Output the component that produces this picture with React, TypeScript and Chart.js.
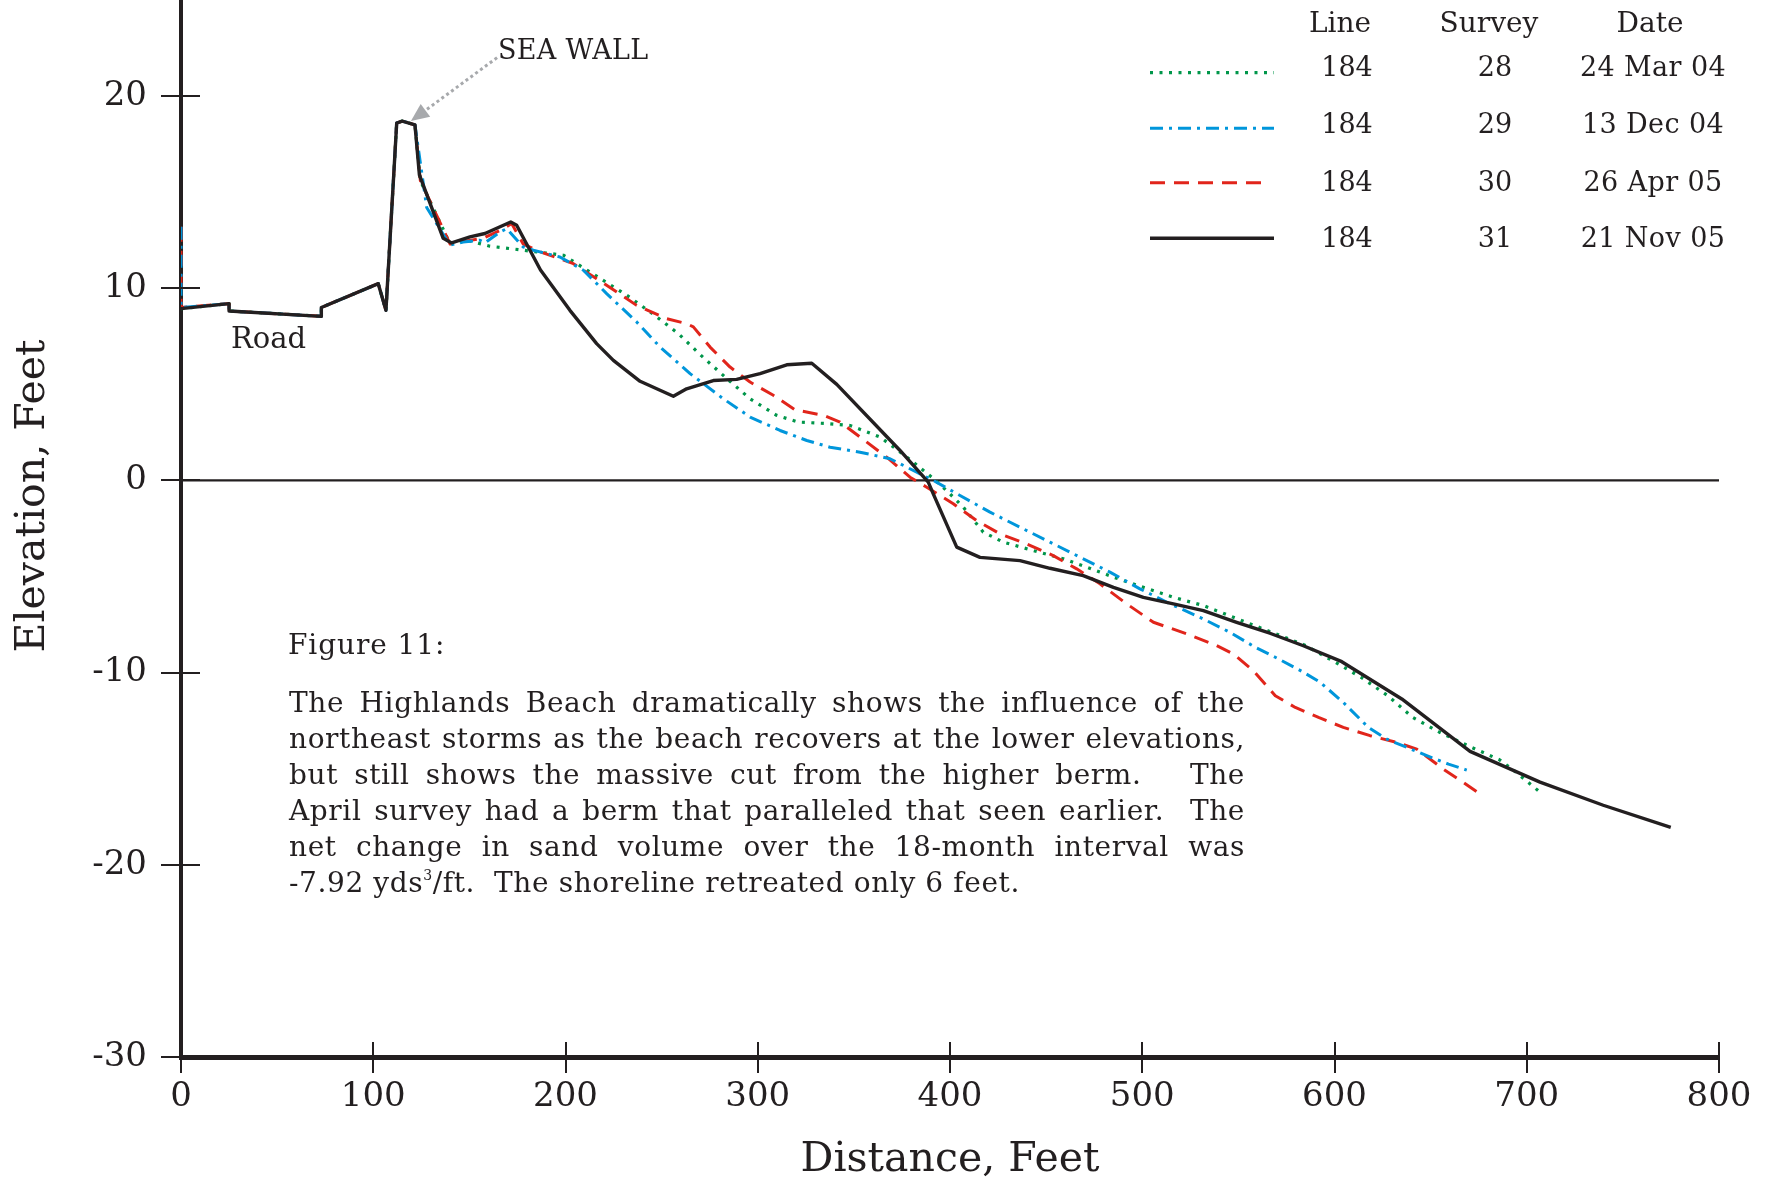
import React, { useEffect, useRef } from "react";
import { Chart, registerables } from "chart.js";

Chart.register(...registerables);

const INK = "#231f20";
const SERIF = "'DejaVu Serif', serif";

// Axis ticks
const xTickValues = [0, 100, 200, 300, 400, 500, 600, 700, 800];
const yTickValues = [-30, -20, -10, 0, 10, 20];

// Survey 28 — 24 Mar 04
const dist28 = [0, 25, 25, 73, 73, 102.6, 106.6, 112.2, 115.1, 121.7, 124.5, 140, 148.6, 160.7, 178, 198.9, 212.7, 231.8, 245.7, 258.7, 270.8, 283, 296, 309.8, 321.1, 337.6, 348, 363.6, 377.5, 390.5, 399.1, 406.9, 417.3, 427.7, 443.4, 459, 471.1, 485, 500.6, 516.2, 531.8, 547.4, 563, 584.3, 599, 613.8, 627.7, 640.7, 654.6, 670.2, 685.8, 694.5, 707.5];
const elev28 = [8.94, 9.2, 8.82, 8.54, 9.0, 10.24, 8.85, 18.6, 18.7, 18.5, 15.6, 12.3, 12.5, 12.19, 11.98, 11.72, 10.85, 9.64, 8.65, 7.64, 6.48, 5.38, 4.25, 3.39, 3.04, 2.95, 2.86, 2.26, 1.22, 0.17, -0.61, -1.39, -2.69, -3.21, -3.65, -4.08, -4.51, -5.03, -5.56, -6.08, -6.51, -7.12, -7.73, -8.56, -9.38, -10.24, -11.2, -12.33, -13.1, -13.84, -14.53, -15.19, -16.27];

// Survey 29 — 13 Dec 04
const dist29 = [0, 0, 25, 25, 73, 73, 102.6, 106.6, 112.2, 115.1, 121.7, 127.8, 139.9, 146.8, 155.5, 158.1, 165.9, 169.4, 178, 183.3, 197.1, 209.3, 221.4, 237, 249.2, 264.8, 282.1, 296, 311.6, 325.5, 337.6, 353.2, 368.8, 382.7, 391.3, 405.2, 420.8, 436.4, 452, 467.6, 483.2, 498.8, 514.4, 530, 545.6, 558.8, 569.2, 583, 592.5, 604.6, 617.6, 627.2, 637.6, 648, 659.3, 668.8];
const elev29 = [13.2, 9.0, 9.2, 8.82, 8.54, 9.0, 10.24, 8.85, 18.6, 18.7, 18.5, 14.2, 12.24, 12.41, 12.5, 12.36, 12.93, 13.1, 12.15, 11.98, 11.63, 10.94, 9.72, 8.25, 6.94, 5.56, 4.25, 3.3, 2.6, 2.08, 1.73, 1.47, 1.13, 0.43, 0, -0.78, -1.65, -2.43, -3.21, -3.99, -4.77, -5.64, -6.42, -7.12, -7.9, -8.68, -9.2, -9.93, -10.5, -11.55, -12.85, -13.46, -13.89, -14.32, -14.76, -15.07];

// Survey 30 — 26 Apr 05
const dist30 = [0, 0, 25, 25, 73, 73, 102.6, 106.6, 112.2, 115.1, 121.7, 124.5, 140, 145.1, 157.2, 167.7, 172, 178, 186.7, 204.1, 216.2, 237, 252.6, 263, 266.5, 275.2, 285.6, 296, 308.1, 319.4, 334.1, 342.8, 353.2, 367.1, 379.2, 387.9, 401.7, 413.8, 426, 439.9, 453.7, 465.9, 478, 491.9, 505.8, 523.1, 538.7, 547.4, 557.8, 569.2, 579.6, 591.7, 604.6, 618.5, 632.4, 642.8, 656.6, 667, 677.5];
const elev30 = [13.2, 9.0, 9.2, 8.82, 8.54, 9.0, 10.24, 8.85, 18.6, 18.7, 18.5, 15.6, 12.3, 12.41, 12.6, 13.1, 13.37, 12.3, 11.9, 11.28, 10.5, 9.11, 8.42, 8.16, 7.99, 6.94, 5.9, 5.12, 4.43, 3.68, 3.39, 3.04, 2.26, 1.21, 0.17, -0.35, -1.21, -2.08, -2.78, -3.3, -3.91, -4.6, -5.38, -6.42, -7.38, -7.98, -8.59, -9.03, -9.9, -11.2, -11.81, -12.33, -12.85, -13.28, -13.63, -13.98, -15.02, -15.71, -16.44];

// Survey 31 — 21 Nov 05
const dist31 = [0, 25, 25, 73, 73, 102.6, 106.6, 112.2, 115.1, 121.7, 124, 136.4, 140.8, 150.3, 158.1, 171.5, 174.6, 187, 202.3, 216.2, 224.9, 238.8, 256.1, 263, 276.9, 289, 301.2, 315.1, 328.1, 341.1, 374, 388.7, 391.3, 403.5, 415.6, 436.4, 452, 469.3, 485, 500.6, 516.2, 531.8, 549.1, 566.4, 583.8, 603.8, 635, 670.5, 706.9, 739.8, 774.9];
const elev31 = [8.94, 9.2, 8.82, 8.54, 9.0, 10.24, 8.85, 18.6, 18.7, 18.5, 15.9, 12.6, 12.36, 12.67, 12.85, 13.45, 13.28, 10.95, 8.85, 7.12, 6.25, 5.16, 4.38, 4.77, 5.2, 5.26, 5.56, 6.02, 6.1, 5.0, 1.56, -0.09, -0.7, -3.47, -4.0, -4.17, -4.57, -4.95, -5.56, -6.08, -6.42, -6.77, -7.38, -7.95, -8.6, -9.43, -11.37, -14.1, -15.7, -16.9, -18.05];

// Legend table
const legendLine = ["184", "184", "184", "184"];
const legendSurvey = ["28", "29", "30", "31"];
const legendDate = ["24 Mar 04", "13 Dec 04", "26 Apr 05", "21 Nov 05"];

// Sea wall annotation (data coordinates: from label to tip)
const seaWallArrow = { fromX: 164.4, fromY: 22.0, toX: 119.6, toY: 18.7 };

const paragraphLines = [
  "The Highlands Beach dramatically shows the influence of the",
  "northeast storms as the beach recovers at the lower elevations,",
  "but still shows the massive cut from the higher berm.\u00a0\u00a0 The",
  "April survey had a berm that paralleled that seen earlier.\u00a0 The",
  "net change in sand volume over the 18-month interval was",
];

const styles = [
  { color: "#00964a", dash: [3, 6.5], width: 3.2 },
  { color: "#0096db", dash: [13, 6, 3, 6], width: 3 },
  { color: "#e1251b", dash: [15, 9], width: 3 },
  { color: INK, dash: [] as number[], width: 3.4 },
];
const drawOrder = [3, 1, 2, 0];

const toPoints = (d: number[], e: number[]) => d.map((x, i) => ({ x, y: e[i] }));

const decorPlugin = {
  id: "decor",
  beforeDatasetsDraw(chart: any) {
    const { ctx, scales } = chart;
    const x = scales.x, y = scales.y;
    ctx.save();
    ctx.strokeStyle = INK;
    ctx.lineWidth = 2.2;
    const py = y.getPixelForValue(0);
    ctx.beginPath();
    ctx.moveTo(x.getPixelForValue(0), py);
    ctx.lineTo(x.getPixelForValue(800), py);
    ctx.stroke();
    ctx.restore();
  },
  afterDraw(chart: any) {
    const { ctx, scales, chartArea } = chart;
    const x = scales.x, y = scales.y;
    ctx.save();
    ctx.strokeStyle = INK;
    ctx.lineWidth = 2;
    yTickValues.forEach((v) => {
      const py = Math.round(y.getPixelForValue(v));
      ctx.beginPath();
      ctx.moveTo(chartArea.left - 20, py);
      ctx.lineTo(chartArea.left + 19, py);
      ctx.stroke();
    });
    xTickValues.forEach((v) => {
      const px = Math.round(x.getPixelForValue(v));
      ctx.beginPath();
      ctx.moveTo(px, chartArea.bottom - 15);
      ctx.lineTo(px, chartArea.bottom + 16);
      ctx.stroke();
    });
    // Sea wall arrow
    const x1 = x.getPixelForValue(seaWallArrow.fromX);
    const y1 = y.getPixelForValue(seaWallArrow.fromY);
    const x2 = x.getPixelForValue(seaWallArrow.toX);
    const y2 = y.getPixelForValue(seaWallArrow.toY);
    const ang = Math.atan2(y2 - y1, x2 - x1);
    const headLen = 18;
    const bx = x2 - headLen * Math.cos(ang);
    const by = y2 - headLen * Math.sin(ang);
    ctx.strokeStyle = "#a7a9ac";
    ctx.fillStyle = "#a7a9ac";
    ctx.lineWidth = 3;
    ctx.setLineDash([3, 3]);
    ctx.beginPath();
    ctx.moveTo(x1, y1);
    ctx.lineTo(bx, by);
    ctx.stroke();
    ctx.setLineDash([]);
    ctx.beginPath();
    ctx.moveTo(x2, y2);
    ctx.lineTo(bx + 8 * Math.sin(ang), by - 8 * Math.cos(ang));
    ctx.lineTo(bx - 8 * Math.sin(ang), by + 8 * Math.cos(ang));
    ctx.closePath();
    ctx.fill();
    // Legend samples
    const rowsY = [72.7, 128.3, 182.7, 238.3];
    styles.forEach((s, i) => {
      ctx.strokeStyle = s.color;
      ctx.lineWidth = s.width;
      ctx.setLineDash(s.dash);
      ctx.beginPath();
      ctx.moveTo(1150, rowsY[i]);
      ctx.lineTo(i === 2 ? 1262 : 1274, rowsY[i]);
      ctx.stroke();
    });
    ctx.restore();
  },
};

function Txt(props: { x: number; base: number; size: number; align?: "left" | "center"; spacing?: number; children: React.ReactNode }) {
  const { x, base, size, align = "left", spacing = 0, children } = props;
  const top = base - 0.845 * size;
  const style: React.CSSProperties = {
    position: "absolute",
    top,
    left: align === "center" ? x - 200 : x,
    width: align === "center" ? 400 : undefined,
    textAlign: align,
    font: `${size}px ${SERIF}`,
    letterSpacing: spacing ? `${spacing}px` : undefined,
    lineHeight: 1,
    whiteSpace: "nowrap",
    color: INK,
  };
  return <div style={style}>{children}</div>;
}

export default function App() {
  const canvasRef = useRef<HTMLCanvasElement | null>(null);

  useEffect(() => {
    document.body.style.margin = "0";
    const canvas = canvasRef.current;
    if (!canvas) return;
    const series = [
      toPoints(dist28, elev28),
      toPoints(dist29, elev29),
      toPoints(dist30, elev30),
      toPoints(dist31, elev31),
    ];
    const names = ["Survey 28", "Survey 29", "Survey 30", "Survey 31"];
    const chart = new Chart(canvas, {
      type: "line",
      data: {
        datasets: series.map((pts, i) => ({
          label: names[i],
          data: pts,
          borderColor: styles[i].color,
          borderWidth: styles[i].width,
          borderDash: styles[i].dash,
          pointRadius: 0,
          tension: 0,
          fill: false,
          order: drawOrder[i],
          borderJoinStyle: "round",
        })),
      },
      options: {
        animation: false,
        responsive: false,
        devicePixelRatio: 1,
        layout: { padding: { left: 0, right: 52, top: 0, bottom: 0 } },
        plugins: { legend: { display: false }, tooltip: { enabled: false } },
        scales: {
          x: {
            type: "linear",
            min: 0,
            max: 800,
            grid: { display: false, drawTicks: false },
            border: { display: true, color: INK, width: 5 },
            ticks: {
              stepSize: 100,
              padding: 20,
              color: INK,
              font: { family: SERIF, size: 34 },
              maxRotation: 0,
            },
            title: {
              display: true,
              text: "Distance, Feet",
              color: INK,
              font: { family: SERIF, size: 41, lineHeight: 1 },
              padding: { top: 0, bottom: 0 },
            },
            afterFit: (scale: any) => {
              scale.height = 124;
              scale.paddingLeft = 0;
              scale.paddingRight = 0;
            },
          },
          y: {
            type: "linear",
            min: -30,
            max: 25,
            grid: { display: false, drawTicks: false },
            border: { display: true, color: INK, width: 4 },
            ticks: {
              stepSize: 10,
              includeBounds: false,
              padding: 34,
              color: INK,
              font: { family: SERIF, size: 34 },
            },
            afterFit: (scale: any) => {
              scale.width = 181;
              scale.paddingTop = 0;
              scale.paddingBottom = 0;
            },
          },
        },
      },
      plugins: [decorPlugin],
    } as any);
    return () => chart.destroy();
  }, []);

  return (
    <div style={{ position: "absolute", left: 0, top: 0, width: 1771, height: 1181, background: "#fff", overflow: "hidden" }}>
      <canvas ref={canvasRef} width={1771} height={1181} style={{ display: "block", width: 1771, height: 1181 }} />
      <div
        style={{
          position: "absolute",
          left: 31 - 200,
          top: 496 - 25,
          width: 400,
          height: 50,
          lineHeight: "50px",
          textAlign: "center",
          transform: "rotate(-90deg)",
          font: `41px ${SERIF}`,
          color: INK,
          whiteSpace: "nowrap",
        }}
      >
        Elevation, Feet
      </div>
      <Txt x={498} base={59} size={27} spacing={0.3}>SEA WALL</Txt>
      <Txt x={231} base={349} size={29}>Road</Txt>
      <Txt x={1340} base={33} size={28} align="center">Line</Txt>
      <Txt x={1489} base={33} size={28} align="center">Survey</Txt>
      <Txt x={1650} base={33} size={28} align="center">Date</Txt>
      {[76, 132.7, 190.7, 247.3].map((b, i) => (
        <React.Fragment key={i}>
          <Txt x={1347} base={b} size={27} align="center">{legendLine[i]}</Txt>
          <Txt x={1495} base={b} size={27} align="center">{legendSurvey[i]}</Txt>
          <Txt x={1653} base={b} size={27} align="center" spacing={0.4}>{legendDate[i]}</Txt>
        </React.Fragment>
      ))}
      <Txt x={288} base={655} size={28} spacing={0.9}>Figure 11:</Txt>
      <div
        style={{
          position: "absolute",
          left: 289,
          top: 685,
          width: 956,
          font: `28px ${SERIF}`,
          letterSpacing: "0.6px",
          lineHeight: "36px",
          color: INK,
        }}
      >
        {paragraphLines.map((l, i) => (
          <div key={i} style={{ textAlign: "justify", textAlignLast: "justify", whiteSpace: "normal" }}>{l}</div>
        ))}
        <div>
          -7.92 yds<sup style={{ fontSize: "14px", verticalAlign: "top", lineHeight: "20px" }}>3</sup>/ft.&nbsp; The shoreline retreated only 6 feet.
        </div>
      </div>
    </div>
  );
}
